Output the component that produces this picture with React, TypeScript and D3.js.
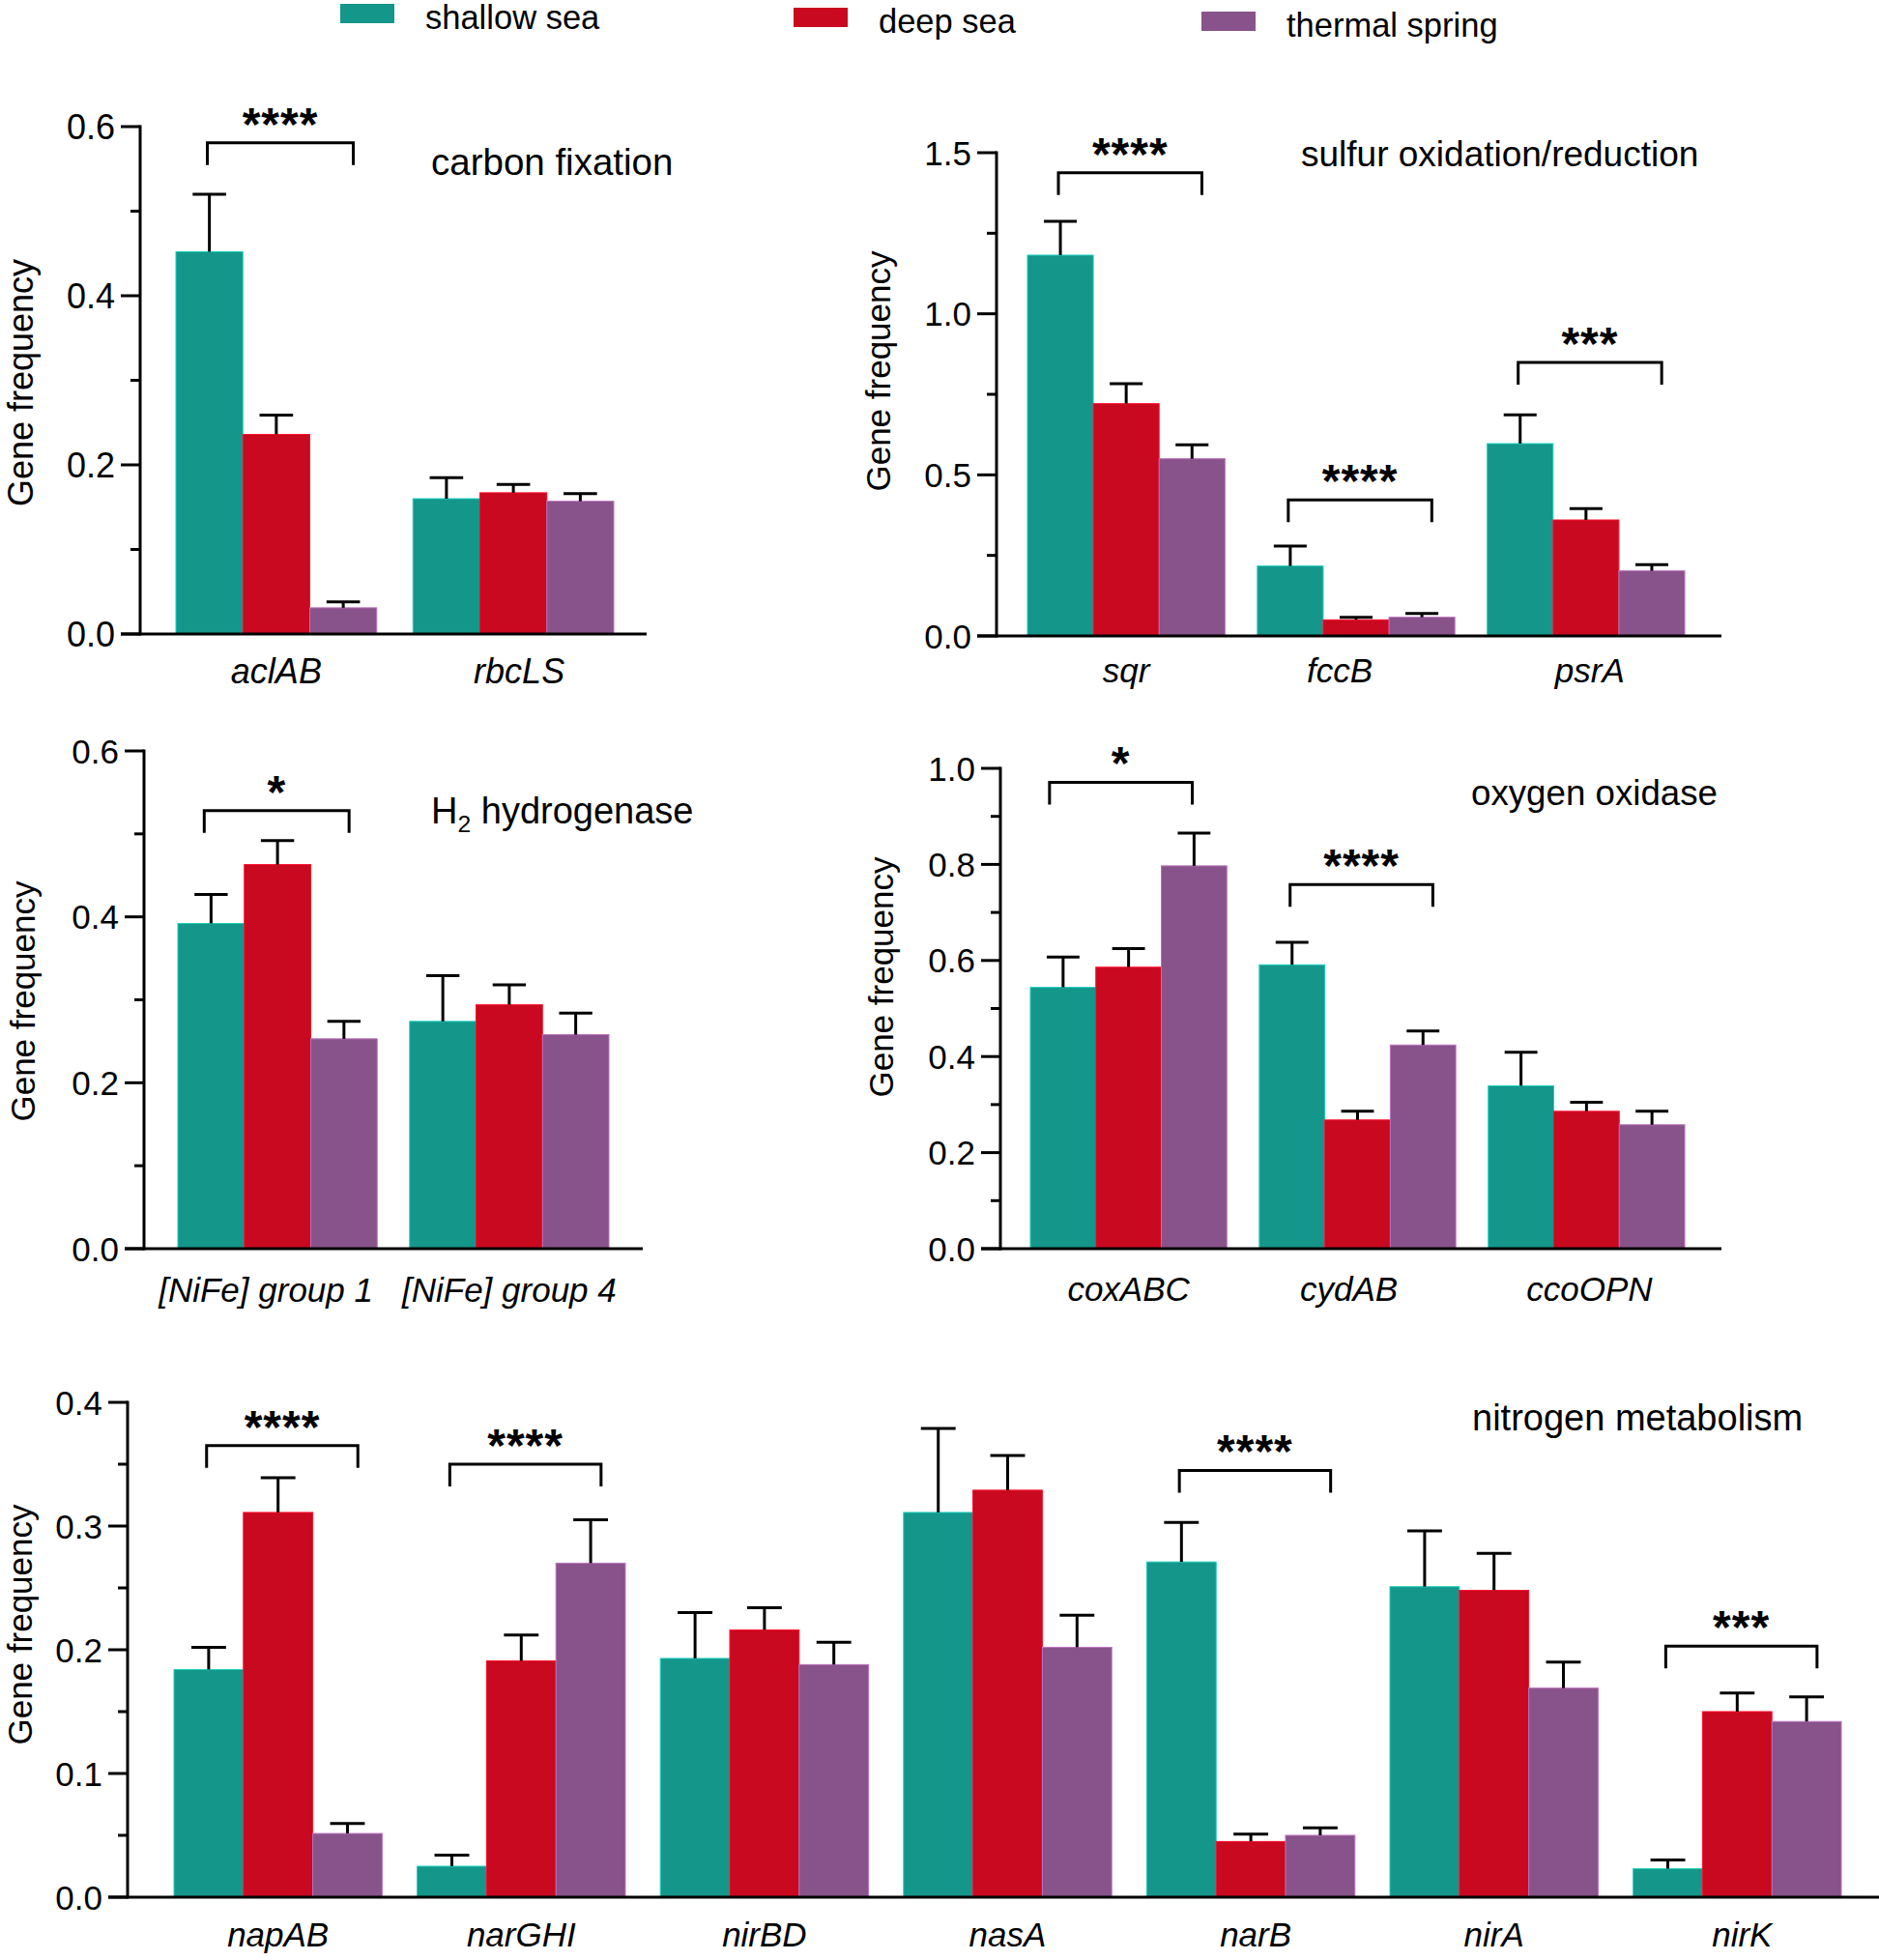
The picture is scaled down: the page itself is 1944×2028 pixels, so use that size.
import * as d3 from "d3";
import React from "react";

const FONT = "'Liberation Sans', Arial, Helvetica, sans-serif";

// sample groups (legend)
const sites = ["shallow sea", "deep sea", "thermal spring"];
const siteColors = ["#14968a", "#c8091f", "#88528a"];

// carbon fixation
const carbonGenes = ["aclAB", "rbcLS"];
const carbonShallow = [0.452, 0.16];
const carbonDeep = [0.236, 0.167];
const carbonThermal = [0.031, 0.157];
const carbonShallowErr = [0.068, 0.025];
const carbonDeepErr = [0.023, 0.01];
const carbonThermalErr = [0.007, 0.009];
const carbonSig = [{ gene: "aclAB", at: 0.581, stars: "****" }];

// sulfur oxidation/reduction
const sulfurGenes = ["sqr", "fccB", "psrA"];
const sulfurShallow = [1.182, 0.217, 0.597];
const sulfurDeep = [0.721, 0.05, 0.36];
const sulfurThermal = [0.55, 0.058, 0.202];
const sulfurShallowErr = [0.105, 0.062, 0.089];
const sulfurDeepErr = [0.062, 0.008, 0.035];
const sulfurThermalErr = [0.043, 0.012, 0.019];
const sulfurSig = [
  { gene: "sqr", at: 1.438, stars: "****" },
  { gene: "fccB", at: 0.422, stars: "****" },
  { gene: "psrA", at: 0.849, stars: "***" },
];

// H2 hydrogenase
const h2Genes = ["[NiFe] group 1", "[NiFe] group 4"];
const h2Shallow = [0.392, 0.274];
const h2Deep = [0.463, 0.294];
const h2Thermal = [0.253, 0.258];
const h2ShallowErr = [0.035, 0.055];
const h2DeepErr = [0.029, 0.024];
const h2ThermalErr = [0.021, 0.026];
const h2Sig = [{ gene: "[NiFe] group 1", at: 0.528, stars: "*" }];

// oxygen oxidase
const oxyGenes = ["coxABC", "cydAB", "ccoOPN"];
const oxyShallow = [0.544, 0.591, 0.339];
const oxyDeep = [0.586, 0.268, 0.286];
const oxyThermal = [0.797, 0.424, 0.258];
const oxyShallowErr = [0.063, 0.047, 0.07];
const oxyDeepErr = [0.039, 0.018, 0.019];
const oxyThermalErr = [0.068, 0.029, 0.028];
const oxySig = [
  { gene: "coxABC", at: 0.971, stars: "*" },
  { gene: "cydAB", at: 0.758, stars: "****" },
];

// nitrogen metabolism
const nitroGenes = ["napAB", "narGHI", "nirBD", "nasA", "narB", "nirA", "nirK"];
const nitroShallow = [0.184, 0.025, 0.193, 0.311, 0.271, 0.251, 0.023];
const nitroDeep = [0.311, 0.191, 0.216, 0.329, 0.045, 0.248, 0.15];
const nitroThermal = [0.0515, 0.27, 0.188, 0.202, 0.05, 0.169, 0.142];
const nitroShallowErr = [0.018, 0.009, 0.037, 0.068, 0.032, 0.045, 0.007];
const nitroDeepErr = [0.028, 0.021, 0.018, 0.028, 0.006, 0.03, 0.015];
const nitroThermalErr = [0.008, 0.035, 0.018, 0.026, 0.006, 0.021, 0.02];
const nitroSig = [
  { gene: "napAB", at: 0.365, stars: "****" },
  { gene: "narGHI", at: 0.35, stars: "****" },
  { gene: "narB", at: 0.345, stars: "****" },
  { gene: "nirK", at: 0.203, stars: "***" },
];

// layout of the five panels (pixels)
const panels = [
  {
    genes: carbonGenes,
    means: [carbonShallow, carbonDeep, carbonThermal],
    errs: [carbonShallowErr, carbonDeepErr, carbonThermalErr],
    sig: carbonSig,
    yMax: 0.6, major: 0.2,
    axisX: 145, top: 131, bottom: 656, right: 669, g0: 182, g1: 635, pad: 0.153,
    title: ["carbon fixation"], titleX: 446, titleY: 181, titleFs: 38.5,
    ylabY: 396, ylabX: 34, xlabDy: 51, fs: 36, labShift: [0, 6], brShift: [0],
  },
  {
    genes: sulfurGenes,
    means: [sulfurShallow, sulfurDeep, sulfurThermal],
    errs: [sulfurShallowErr, sulfurDeepErr, sulfurThermalErr],
    sig: sulfurSig,
    yMax: 1.5, major: 0.5,
    axisX: 1031, top: 158, bottom: 658, right: 1781, g0: 1063, g1: 1743, pad: 0.141,
    title: ["sulfur oxidation/reduction"], titleX: 1346, titleY: 172, titleFs: 37,
    ylabY: 384, ylabX: 921, xlabDy: 48, fs: 35, labShift: [0, -17, 4], brShift: [0, 0, 0],
  },
  {
    genes: h2Genes,
    means: [h2Shallow, h2Deep, h2Thermal],
    errs: [h2ShallowErr, h2DeepErr, h2ThermalErr],
    sig: h2Sig,
    yMax: 0.6, major: 0.2,
    axisX: 149, top: 777, bottom: 1292, right: 665, g0: 184, g1: 630, pad: 0.14,
    title: ["H", "2", " hydrogenase"], titleX: 446, titleY: 852, titleFs: 38,
    ylabY: 1036, ylabX: 36, xlabDy: 55, fs: 35, labShift: [-12, 0], brShift: [-5],
  },
  {
    genes: oxyGenes,
    means: [oxyShallow, oxyDeep, oxyThermal],
    errs: [oxyShallowErr, oxyDeepErr, oxyThermalErr],
    sig: oxySig,
    yMax: 1.0, major: 0.2,
    axisX: 1035, top: 795, bottom: 1292, right: 1781, g0: 1066, g1: 1743, pad: 0.142,
    title: ["oxygen oxidase"], titleX: 1522, titleY: 833, titleFs: 36.7,
    ylabY: 1011, ylabX: 924, xlabDy: 54, fs: 35, labShift: [0, -9, 3], brShift: [-12, 0],
  },
  {
    genes: nitroGenes,
    means: [nitroShallow, nitroDeep, nitroThermal],
    errs: [nitroShallowErr, nitroDeepErr, nitroThermalErr],
    sig: nitroSig,
    yMax: 0.4, major: 0.1,
    axisX: 132, top: 1451, bottom: 1963, right: 1944, g0: 180, g1: 1905, pad: 0.144,
    title: ["nitrogen metabolism"], titleX: 1523, titleY: 1480, titleFs: 38,
    ylabY: 1681, ylabX: 33, xlabDy: 51, fs: 35, labShift: [0, 0, 0, 0, 5, 0, 5],
    brShift: [0, 0, 0, 0],
  },
];

function Panel({ p }) {
  const y = d3.scaleLinear().domain([0, p.yMax]).range([p.bottom, p.top]);
  const x0 = d3.scaleBand().domain(p.genes).range([p.g0, p.g1]).paddingInner(p.pad);
  const x1 = d3.scaleBand().domain([0, 1, 2]).range([0, x0.bandwidth()]);
  const bw = x1.bandwidth();
  const majors = d3.range(0, p.yMax + 1e-9, p.major);
  const minors = d3.range(p.major / 2, p.yMax, p.major);
  const fmt = d3.format(".1f");
  const sw = 3;

  return (
    <g fontFamily={FONT}>
      {p.genes.map((g, i) =>
        [0, 1, 2].map((s) => {
          const v = p.means[s][i];
          return (
            <rect
              key={g + s}
              x={x0(g) + x1(s)}
              y={y(v)}
              width={bw}
              height={y(0) - y(v)}
              fill={siteColors[s]}
              stroke={d3.color(siteColors[s]).brighter(0.9).formatHex()}
              strokeWidth={1}
            />
          );
        })
      )}
      {p.genes.map((g, i) =>
        [0, 1, 2].map((s) => {
          const v = p.means[s][i];
          const e = p.errs[s][i];
          const cx = x0(g) + x1(s) + bw / 2;
          return (
            <g key={"e" + g + s} stroke="#000" strokeWidth={sw}>
              <line x1={cx} x2={cx} y1={y(v)} y2={y(v + e)} />
              <line x1={cx - bw / 4} x2={cx + bw / 4} y1={y(v + e)} y2={y(v + e)} />
            </g>
          );
        })
      )}
      {/* axes */}
      <line x1={p.axisX} x2={p.axisX} y1={y(0) + sw / 2} y2={y(p.yMax) - sw / 2} stroke="#000" strokeWidth={sw} />
      <line x1={p.axisX - 20} x2={p.right} y1={y(0)} y2={y(0)} stroke="#000" strokeWidth={sw} />
      {majors.map((t) => (
        <g key={"M" + t}>
          <line x1={p.axisX - 20} x2={p.axisX} y1={y(t)} y2={y(t)} stroke="#000" strokeWidth={sw} />
          <text x={p.axisX - 26} y={y(t)} dy="0.36em" textAnchor="end" fontSize={p.fs}>
            {fmt(t)}
          </text>
        </g>
      ))}
      {minors.map((t) => (
        <line key={"m" + t} x1={p.axisX - 10} x2={p.axisX} y1={y(t)} y2={y(t)} stroke="#000" strokeWidth={sw} />
      ))}
      {p.genes.map((g, i) => (
        <text
          key={"l" + g}
          x={x0(g) + x0.bandwidth() / 2 + p.labShift[i]}
          y={p.bottom + p.xlabDy}
          textAnchor="middle"
          fontStyle="italic"
          fontSize={p.fs}
        >
          {g}
        </text>
      ))}
      {p.sig.map((b, k) => {
        const xa = x0(b.gene) + bw / 2 - 0.03 * bw + p.brShift[k];
        const xb = xa + 2.18 * bw;
        const yy = y(b.at);
        return (
          <g key={"s" + b.gene}>
            <path
              d={`M${xa},${yy + 23}V${yy}H${xb}V${yy + 23}`}
              fill="none"
              stroke="#000"
              strokeWidth={sw}
            />
            <text
              x={(xa + xb) / 2}
              y={yy - 3}
              textAnchor="middle"
              fontSize={48}
              fontWeight="bold"
              letterSpacing={1}
            >
              {b.stars}
            </text>
          </g>
        );
      })}
      <text x={p.titleX} y={p.titleY} fontSize={p.titleFs}>
        {p.title.length === 1 ? (
          p.title[0]
        ) : (
          <>
            <tspan>{p.title[0]}</tspan>
            <tspan fontSize={p.titleFs * 0.65} dy={9}>
              {p.title[1]}
            </tspan>
            <tspan dy={-9}>{p.title[2]}</tspan>
          </>
        )}
      </text>
      <text
        transform={`translate(${p.ylabX},${p.ylabY}) rotate(-90)`}
        textAnchor="middle"
        fontSize={p.fs}
      >
        Gene frequency
      </text>
    </g>
  );
}

export default function App() {
  const legendRect = [
    { x: 352, y: 4 },
    { x: 821, y: 8 },
    { x: 1243, y: 12 },
  ];
  return (
    <svg
      width={1944}
      height={2028}
      style={{ position: "absolute", left: 0, top: 0, background: "#fff" }}
    >
      <rect width={1944} height={2028} fill="#fff" />
      {sites.map((s, i) => (
        <g key={s} fontFamily={FONT}>
          <rect x={legendRect[i].x} y={legendRect[i].y} width={56} height={20} fill={siteColors[i]} />
          <text x={legendRect[i].x + 88} y={legendRect[i].y + 26} fontSize={34.5}>
            {s}
          </text>
        </g>
      ))}
      {panels.map((p, i) => (
        <Panel key={i} p={p} />
      ))}
    </svg>
  );
}
